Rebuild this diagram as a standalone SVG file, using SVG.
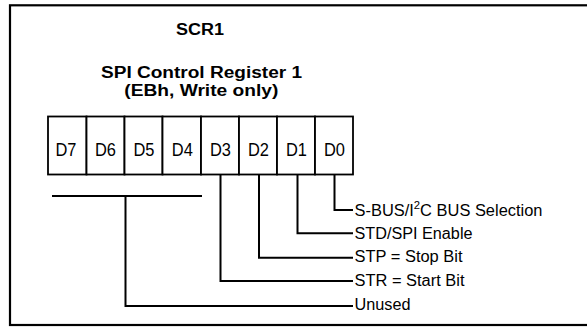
<svg xmlns="http://www.w3.org/2000/svg" width="587" height="327" viewBox="0 0 587 327">
<style>
.t{font-family:"Liberation Sans",Arial,sans-serif;font-weight:bold;font-size:16px;fill:#000}
.c{font-family:"Liberation Sans",Arial,sans-serif;font-size:18px;fill:#000;text-anchor:middle}
.l{font-family:"Liberation Sans",Arial,sans-serif;font-size:16px;fill:#000}
.cell{fill:#fff;stroke:#000;stroke-width:1.8}
.w{fill:none;stroke:#000;stroke-width:2}
</style>
<rect x="0" y="0" width="587" height="327" fill="#fff"/>
<rect x="10" y="5.3" width="590" height="319.7" fill="none" stroke="#000" stroke-width="2.2"/>
<g id="title">
<text class="t" x="176" y="35" textLength="48" lengthAdjust="spacingAndGlyphs">SCR1</text>
<text class="t" x="101" y="78.3" textLength="201" lengthAdjust="spacingAndGlyphs">SPI Control  Register 1</text>
<text class="t" x="124.3" y="96.3" textLength="154" lengthAdjust="spacingAndGlyphs">(EBh, Write only)</text>
</g>
<g id="register">
<rect class="cell" x="48" y="116.5" width="38.5" height="58"/>
<rect class="cell" x="86.5" y="116.5" width="38" height="58"/>
<rect class="cell" x="124.5" y="116.5" width="38" height="58"/>
<rect class="cell" x="162.5" y="116.5" width="38.5" height="58"/>
<rect class="cell" x="201" y="116.5" width="38" height="58"/>
<rect class="cell" x="239" y="116.5" width="38" height="58"/>
<rect class="cell" x="277" y="116.5" width="38" height="58"/>
<rect class="cell" x="315" y="116.5" width="38" height="58"/>
<text class="c" x="66" y="155.5" textLength="21" lengthAdjust="spacingAndGlyphs">D7</text>
<text class="c" x="105.5" y="155.5" textLength="21" lengthAdjust="spacingAndGlyphs">D6</text>
<text class="c" x="144" y="155.5" textLength="21" lengthAdjust="spacingAndGlyphs">D5</text>
<text class="c" x="182.3" y="155.5" textLength="21" lengthAdjust="spacingAndGlyphs">D4</text>
<text class="c" x="220.5" y="155.5" textLength="21" lengthAdjust="spacingAndGlyphs">D3</text>
<text class="c" x="258.5" y="155.5" textLength="21" lengthAdjust="spacingAndGlyphs">D2</text>
<text class="c" x="296.5" y="155.5" textLength="21" lengthAdjust="spacingAndGlyphs">D1</text>
<text class="c" x="334.5" y="155.5" textLength="21" lengthAdjust="spacingAndGlyphs">D0</text>
</g>
<g id="connectors">
<path class="w" d="M52 196H202"/>
<path class="w" d="M125.5 196V306H353"/>
<path class="w" d="M220.5 175V281H353"/>
<path class="w" d="M259 175V257.7H353"/>
<path class="w" d="M297.5 175V233.3H353"/>
<path class="w" d="M334.5 175V210H353"/>
</g>
<g id="labels">
<text class="l" x="354.5" y="215.5" textLength="188" lengthAdjust="spacingAndGlyphs">S-BUS/I<tspan dy="-6.5" font-size="11">2</tspan><tspan dy="6.5">C BUS Selection</tspan></text>
<text class="l" x="354.5" y="238.8" textLength="118" lengthAdjust="spacingAndGlyphs">STD/SPI Enable</text>
<text class="l" x="354.5" y="262.2" textLength="108" lengthAdjust="spacingAndGlyphs">STP = Stop Bit</text>
<text class="l" x="354.5" y="285.5" textLength="110" lengthAdjust="spacingAndGlyphs">STR = Start Bit</text>
<text class="l" x="354.5" y="309.8" textLength="56" lengthAdjust="spacingAndGlyphs">Unused</text>
</g>
</svg>
